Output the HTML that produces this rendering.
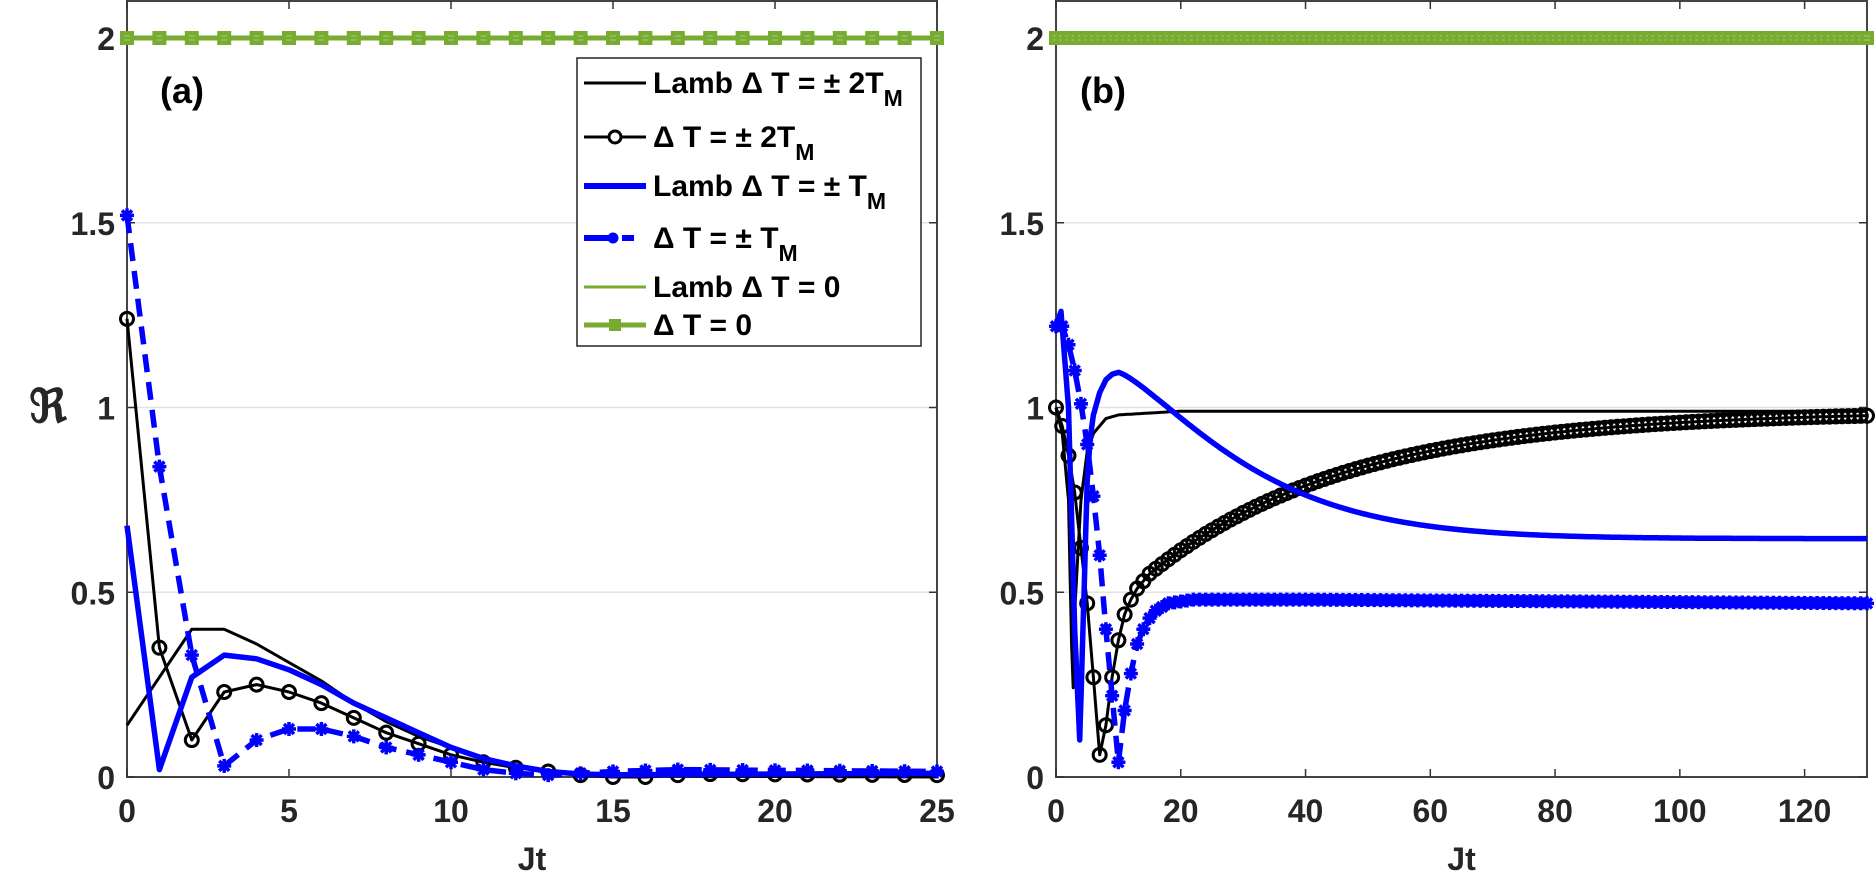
<!DOCTYPE html><html><head><style>body{margin:0;background:#fff}svg{display:block}text{font-family:"Liberation Sans",sans-serif;font-weight:bold;fill:#262626}</style></head><body>
<svg id="s" width="1876" height="877" xmlns="http://www.w3.org/2000/svg"></svg>
<script>
const S=document.getElementById('s');let h='';
const Y=v=>777-v*369.5;
function interp(pts,t){for(let i=0;i<pts.length-1;i++){if(t<=pts[i+1][0]){const[a,b]=pts[i],[c,d]=pts[i+1];return b+(d-b)*(t-a)/(c-a);}}return pts[pts.length-1][1];}
function panel(x0,x1,xmax,ticks){
 const X=v=>x0+(x1-x0)*v/xmax;
 [0.5,1,1.5,2].forEach(v=>h+=`<line x1="${x0}" x2="${x1}" y1="${Y(v)}" y2="${Y(v)}" stroke="#e3e3e3" stroke-width="1.5"/>`);
 h+=`<rect x="${x0}" y="1" width="${x1-x0}" height="776" fill="none" stroke="#444" stroke-width="2"/>`;
 ticks.forEach(v=>{h+=`<line x1="${X(v)}" x2="${X(v)}" y1="777" y2="769" stroke="#333" stroke-width="1.5"/><line x1="${X(v)}" x2="${X(v)}" y1="1" y2="9" stroke="#333" stroke-width="1.5"/><text x="${X(v)}" y="822" font-size="32" text-anchor="middle">${v}</text>`;});
 [[0,'0'],[0.5,'0.5'],[1,'1'],[1.5,'1.5'],[2,'2']].forEach(([v,l])=>{h+=`<line x1="${x0}" x2="${x0+8}" y1="${Y(v)}" y2="${Y(v)}" stroke="#333" stroke-width="1.5"/><line x1="${x1}" x2="${x1-8}" y1="${Y(v)}" y2="${Y(v)}" stroke="#333" stroke-width="1.5"/><text x="${x0-12}" y="${Y(v)+12}" font-size="32" text-anchor="end">${l}</text>`;});
 h+=`<text x="${(x0+x1)/2}" y="870" font-size="32" text-anchor="middle">Jt</text>`;
 return X;
}
function line(X,pts,tmax,step,st,f){let d='';for(let t=0;t<=tmax+1e-9;t+=step){const v=f?f(t):interp(pts,t);d+=(d?'L':'M')+X(t).toFixed(1)+','+Y(v).toFixed(1);}h+=`<path d="${d}" fill="none" stroke-linejoin="round" ${st}/>`;}
function circles(X,pts,tmax,step){for(let t=0;t<=tmax+1e-9;t+=step)h+=`<circle cx="${X(t)}" cy="${Y(interp(pts,t))}" r="6.5" fill="none" stroke="#000" stroke-width="3"/>`;}
function stars(X,pts,tmax,step){for(let t=0;t<=tmax+1e-9;t+=step){const x=X(t),y=Y(interp(pts,t));h+=`<g stroke="#00f" stroke-width="3.5"><line x1="${x-7}" x2="${x+7}" y1="${y}" y2="${y}"/><line x1="${x}" x2="${x}" y1="${y-7}" y2="${y+7}"/><line x1="${x-5}" x2="${x+5}" y1="${y-5}" y2="${y+5}"/><line x1="${x-5}" x2="${x+5}" y1="${y+5}" y2="${y-5}"/></g>`;}}
function squares(X,tmax,step){for(let t=0;t<=tmax+1e-9;t+=step){const x=X(t),y=Y(2);h+=`<rect x="${x-6}" y="${y-6}" width="12" height="12" fill="#77ac30" stroke="#77ac30" stroke-width="2"/><line x1="${x-3}" x2="${x+3}" y1="${y-2}" y2="${y-2}" stroke="#a8cc80" stroke-width="1"/><line x1="${x-3}" x2="${x+3}" y1="${y+2}" y2="${y+2}" stroke="#a8cc80" stroke-width="1"/>`;}}
// panel a
let X=panel(127,937,25,[0,5,10,15,20,25]);
const aL2=[[0,.14],[1,.27],[2,.40],[3,.40],[4,.36],[5,.31],[6,.26],[7,.20],[8,.15],[9,.11],[10,.08],[11,.05],[12,.03],[13,.015],[14,.008],[15,.003],[25,0]];
const aC2=[[0,1.24],[1,.35],[2,.10],[3,.23],[4,.25],[5,.23],[6,.20],[7,.16],[8,.12],[9,.09],[10,.06],[11,.04],[12,.025],[13,.015],[14,.005],[15,0],[16,0],[17,.005],[18,.008],[25,.005]];
const aL1=[[0,.68],[1,.02],[2,.27],[3,.33],[4,.32],[5,.29],[6,.25],[7,.20],[8,.16],[9,.12],[10,.08],[11,.05],[12,.03],[13,.015],[14,.008],[15,.006],[25,.01]];
const aS1=[[0,1.52],[1,.84],[2,.33],[3,.03],[4,.10],[5,.13],[6,.13],[7,.11],[8,.08],[9,.06],[10,.04],[11,.02],[12,.01],[13,.005],[14,.01],[15,.015],[17,.02],[25,.015]];
line(X,aL2,25,1,'stroke="#000" stroke-width="3"');
line(X,aC2,25,1,'stroke="#000" stroke-width="3"');circles(X,aC2,25,1);
line(X,aL1,25,1,'stroke="#00f" stroke-width="5.5"');
line(X,aS1,25,1,'stroke="#00f" stroke-width="5.5" stroke-dasharray="18 10"');stars(X,aS1,25,1);
h+=`<line x1="127" x2="937" y1="${Y(2)}" y2="${Y(2)}" stroke="#77ac30" stroke-width="5"/>`;squares(X,25,1);
h+=`<text x="160" y="103" font-size="36" style="fill:#000">(a)</text>`;
// legend
h+=`<rect x="577" y="58" width="344" height="288" fill="#fff" stroke="#222" stroke-width="1.5"/>`;
const leg=[[83,'Lamb Δ T = ± 2T','M','#000',3,''],[137,'Δ T = ± 2T','M','#000',3,'c'],[186,'Lamb Δ T = ± T','M','#00f',6,''],[238,'Δ T = ± T','M','#00f',6,'s'],[287,'Lamb Δ T = 0','','#77ac30',3,''],[325,'Δ T = 0','','#77ac30',5,'q']];
leg.forEach(([y,t,sub,c,w,m])=>{h+=`<line x1="584" x2="646" y1="${y}" y2="${y}" stroke="${c}" stroke-width="${w}" ${m=='s'?'stroke-dasharray="28 10 12"':''}/>`;
 if(m=='c')h+=`<circle cx="615" cy="${y}" r="6" fill="#fff" stroke="#000" stroke-width="3"/>`;
 if(m=='s')h+=`<circle cx="613" cy="${y}" r="5.5" fill="#00f"/>`;
 if(m=='q')h+=`<rect x="609" y="${y-6}" width="12" height="12" fill="#77ac30"/>`;
 h+=`<text x="653" y="${y+10}" font-size="30" style="fill:#000">${t}${sub?`<tspan font-size="23" dy="13">${sub}</tspan>`:''}</text>`;});
// panel b
X=panel(1056,1867,130,[0,20,40,60,80,100,120]);
const bL2=[[0,1],[1,.93],[2,.75],[2.7,.2],[3,.45],[4,.75],[5,.88],[6,.93],[8,.97],[10,.98],[20,.99],[130,.99]];
const bC2=[[0,1],[1,.95],[2,.87],[3,.77],[4,.62],[5,.47],[6,.27],[7,.06],[8,.14],[9,.27],[10,.37],[11,.44],[12,.48],[13,.51],[14,.53],[15,.55]];
for(let t=16;t<=130;t+=2)bC2.push([t,.55+.44*(1-Math.exp(-(t-15)/32))]);
const bL1=[[0,1.22],[0.8,1.26],[2,1.0],[3,.4],[3.8,.1],[4.5,.5],[5,.8],[5.5,.92],[6,.98],[7,1.04],[8,1.075],[9,1.09],[10,1.095]];
const fL1=t=>t<=10?interp(bL1,t):.645+.45*Math.exp(-Math.pow((t-10)/24,1.3));
const bS1=[[0,1.22],[1,1.22],[2,1.17],[3,1.1],[4,1.01],[5,.9],[6,.76],[7,.6],[8,.4],[9,.22],[10,.04],[11,.18],[12,.28],[13,.36],[14,.4],[15,.43],[16,.45],[18,.47],[22,.48],[40,.48],[130,.47]];
line(X,bL2,130,0.25,'stroke="#000" stroke-width="3"');
line(X,bC2,130,0.5,'stroke="#000" stroke-width="3"');circles(X,bC2,130,1);
line(X,bL1,130,0.1,'stroke="#00f" stroke-width="5.5"',fL1);
line(X,bS1,130,1,'stroke="#00f" stroke-width="5.5" stroke-dasharray="18 10"');stars(X,bS1,130,1);
h+=`<line x1="1056" x2="1867" y1="${Y(2)}" y2="${Y(2)}" stroke="#77ac30" stroke-width="5"/>`;squares(X,130,1);
h+=`<text x="1080" y="103" font-size="36" style="fill:#000">(b)</text>`;
h+=`<text x="48" y="422" font-size="46" text-anchor="middle" style="fill:#262626">ℜ</text>`;
S.innerHTML=h;
</script></body></html>
